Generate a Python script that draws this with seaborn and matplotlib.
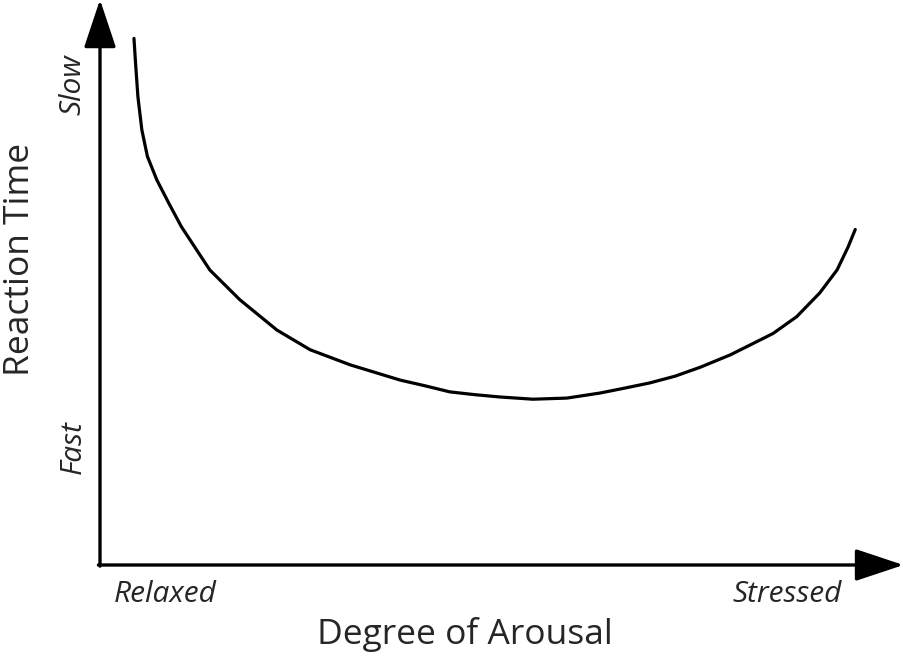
import numpy as np
import pandas as pd
import matplotlib.pyplot as plt
import seaborn as sns

# Values (arousal 0-100, reaction time 0-100)
arousal = [4.3, 4.5, 4.8, 5.3, 6.0, 7.2, 8.7, 10.3, 13.9, 17.7, 22.4, 26.6,
           31.7, 38.0, 41.1, 44.3, 47.5, 50.6, 54.8, 59.1, 63.3, 66.5, 69.6,
           72.8, 76.0, 79.8, 83.5, 85.2, 88.2, 91.1, 93.3, 94.7, 95.6]
reaction_time = [93.7, 89.3, 83.3, 77.4, 72.7, 68.5, 64.4, 60.2, 52.5, 47.2, 41.8, 38.3,
                 35.6, 32.9, 31.9, 30.8, 30.3, 29.9, 29.5, 29.7, 30.6, 31.5, 32.4,
                 33.6, 35.2, 37.4, 40.0, 41.2, 44.2, 48.4, 52.5, 56.6, 59.7]

x_ends = ["Relaxed", "Stressed"]
y_ends = ["Fast", "Slow"]

sns.set_theme(style="white")
plt.rcParams['font.family'] = ['Open Sans', 'DejaVu Sans']

df = pd.DataFrame({'arousal': arousal, 'reaction_time': reaction_time})

fig = plt.figure(figsize=(9.04, 6.58), dpi=100)
W, H = 904, 658
ax = fig.add_axes([100 / W, 93 / H, 790 / W, 562 / H])

sns.lineplot(data=df, x='arousal', y='reaction_time', sort=False, estimator=None,
             color='black', linewidth=2.3, ax=ax)
ax.lines[0].set_solid_joinstyle('round')
ax.set_xlim(0, 100)
ax.set_ylim(0, 100)
ax.set_xticks([])
ax.set_yticks([])
ax.set_xlabel('')
ax.set_ylabel('')
for s in ax.spines.values():
    s.set_visible(False)

# axes drawn as arrows
arrow = dict(arrowstyle='-|>,head_length=1.5,head_width=0.5', color='black',
             lw=2.4, mutation_scale=20, shrinkA=0, shrinkB=0)
ax.annotate('', xy=(1.017, 0), xytext=(-0.002, 0), xycoords='axes fraction',
            arrowprops=arrow, annotation_clip=False)
ax.annotate('', xy=(0, 1.006), xytext=(0, -0.002), xycoords='axes fraction',
            arrowprops=arrow, annotation_clip=False)

# end labels
fig.text(165 / W, 1 - 594 / H, x_ends[0], fontsize=21.5, style='italic', ha='center', va='center')
fig.text(787 / W, 1 - 594 / H, x_ends[1], fontsize=21.5, style='italic', ha='center', va='center')
fig.text(73 / W, 1 - 447 / H, y_ends[0], fontsize=21.5, style='italic', rotation=90, ha='center', va='center')
fig.text(73 / W, 1 - 85 / H, y_ends[1], fontsize=21.5, style='italic', rotation=90, ha='center', va='center')

# axis titles
fig.text(465 / W, 1 - 634 / H, 'Degree of Arousal', fontsize=25.5, ha='center', va='center')
fig.text(20 / W, 1 - 259 / H, 'Reaction Time', fontsize=25.5, rotation=90, ha='center', va='center')

fig.savefig('out.png', dpi=100, facecolor='white')
